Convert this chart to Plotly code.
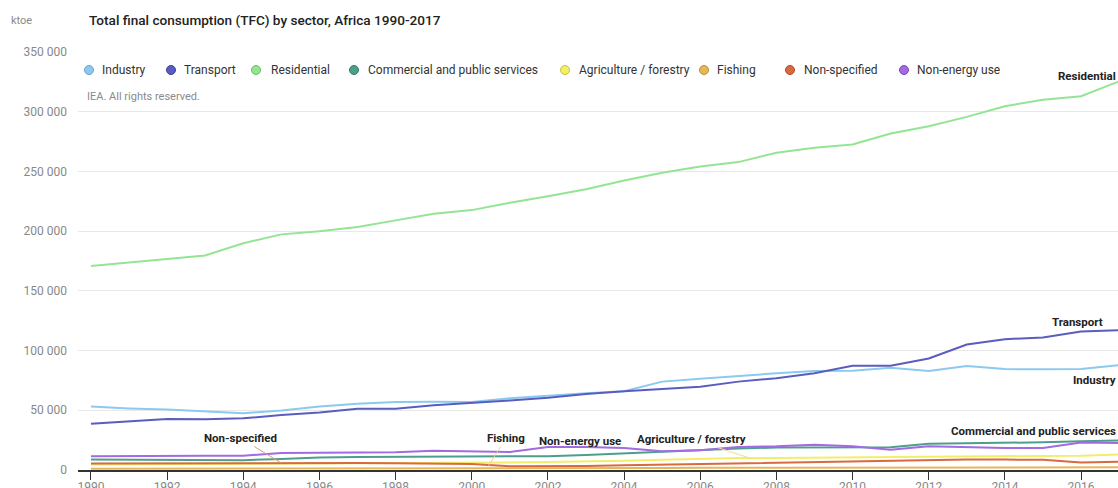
import plotly.graph_objects as go

years = list(range(1990, 2018))

# ktoe
industry = [53100, 51500, 50600, 49300, 47600, 49800, 53100, 55400, 57000, 57200,
            57000, 60000, 62300, 64300, 66000, 74000, 76500, 79000, 81000, 82900,
            83200, 85700, 82900, 87000, 84500, 84300, 84500, 87900]
transport = [38700, 40600, 42600, 42500, 43300, 46000, 48200, 51200, 51200, 54200,
             56000, 58200, 60600, 63700, 66000, 67600, 69800, 74000, 76800, 81000,
             87300, 87300, 93400, 105000, 109500, 111000, 116000, 117000]
residential = [170800, 173600, 176400, 179700, 189800, 197300, 200000, 203400, 209000, 214600,
               217600, 223800, 229300, 235000, 242400, 248900, 254200, 257800, 265600, 269800,
               272500, 281700, 287900, 295700, 304600, 310000, 313000, 325500]
commercial = [8700, 8500, 8300, 8300, 8200, 9300, 10400, 10800, 11000, 11200,
              11500, 11500, 11600, 12500, 13900, 15000, 16200, 18000, 18800, 19000,
              19300, 19000, 22000, 22300, 22600, 23200, 24000, 24800]
agriculture = [4600, 4700, 4800, 4900, 5000, 5100, 5200, 5300, 5400, 5600,
               6000, 6300, 6600, 7000, 7800, 8500, 9200, 10000, 10000, 10300,
               10700, 11000, 11500, 11500, 11800, 11800, 12000, 13000]
fishing = [1100, 1100, 1200, 1200, 1200, 1300, 1300, 1300, 1400, 1400,
           1500, 1500, 1600, 1600, 1700, 1700, 1800, 1800, 1900, 1900,
           2000, 2000, 2000, 2100, 2100, 2100, 2200, 2200]
non_specified = [5500, 5600, 5600, 5700, 5700, 5800, 5800, 5800, 5600, 5400,
                 5000, 3200, 3000, 3400, 4000, 4500, 5000, 5500, 6000, 6500,
                 7200, 7800, 8500, 8700, 8700, 8500, 6200, 7000]
non_energy = [11500, 11800, 11800, 12000, 12000, 14300, 14500, 14800, 14800, 16200,
              15700, 15000, 19300, 19300, 18400, 15700, 16500, 19300, 19800, 21200,
              19800, 17000, 19800, 19000, 18400, 18400, 23000, 22500]

sectors = ["Industry", "Transport", "Residential", "Commercial and public services",
           "Agriculture / forestry", "Fishing", "Non-specified", "Non-energy use"]
series = [industry, transport, residential, commercial, agriculture, fishing, non_specified, non_energy]
colors = ["#8cc9ef", "#5a5dc0", "#93e593", "#4c9f8b", "#f3ee6a", "#e6b65a", "#d9693f", "#a26be2"]
edges = ["#5fa6d3", "#3d3f9c", "#62c062", "#2f7a68", "#c9c236", "#bf8d2e", "#b04a25", "#7c46c0"]

W, H = 1118, 488
# plot area in pixels: left 78, right 1118, top 52, bottom 470
L, R, T, B = 78, 1118, 52, 470


def px(x):
    return (x - L) / (R - L)


def py(y):
    return (B - y) / (B - T)


font = "Roboto, Inter, sans-serif"

fig = go.Figure()
for name, vals, col in zip(sectors, series, colors):
    fig.add_trace(go.Scatter(x=years, y=vals, name=name, mode="lines",
                             line=dict(color=col, width=2), showlegend=False))

annotations = []
shapes = []

# hand-made legend: circles + text
legend_circle_x = [89, 171, 256, 354, 565, 704, 790, 904]
legend_text_x = [100, 182, 269, 366, 577, 715, 802, 915]
for name, col, edge, cx, tx in zip(sectors, colors, edges, legend_circle_x, legend_text_x):
    shapes.append(dict(type="circle", xref="paper", yref="paper",
                       xsizemode="pixel", ysizemode="pixel",
                       xanchor=px(cx), yanchor=py(70),
                       x0=-4.5, x1=4.5, y0=-4.5, y1=4.5,
                       fillcolor=col, line=dict(color=edge, width=1)))
    annotations.append(dict(text=name, xref="paper", yref="paper", x=px(tx), y=py(70),
                            xanchor="left", yanchor="middle", showarrow=False,
                            font=dict(size=12, color="#333333", family=font)))

annotations.append(dict(text="IEA. All rights reserved.", xref="paper", yref="paper",
                        x=px(85), y=py(97), xanchor="left", yanchor="middle", showarrow=False,
                        font=dict(size=11, color="#8a8a8a", family=font)))
annotations.append(dict(text="ktoe", xref="paper", yref="paper",
                        x=px(9), y=py(20), xanchor="left", yanchor="middle", showarrow=False,
                        font=dict(size=11, color="#8a8a8a", family=font)))

label_font = dict(size=11.5, color="#222222", family=font)

# labels at the right end of the big series
annotations.append(dict(text="<b>Residential</b>", xref="paper", yref="y", x=1, y=residential[-1],
                        xanchor="right", yanchor="middle", yshift=5, showarrow=False, font=label_font))
annotations.append(dict(text="<b>Transport</b>", xref="paper", yref="y", x=1, y=transport[-1],
                        xanchor="right", yanchor="middle", yshift=8, xshift=-13, showarrow=False,
                        font=label_font))
annotations.append(dict(text="<b>Industry</b>", xref="paper", yref="y", x=1, y=industry[-1],
                        xanchor="right", yanchor="middle", yshift=-15, showarrow=False, font=label_font))
annotations.append(dict(text="<b>Commercial and public services</b>", xref="paper", yref="y", x=1,
                        y=commercial[-1], xanchor="right", yanchor="middle", yshift=9,
                        showarrow=False, font=label_font))

# callouts for the small series
annotations.append(dict(text="<b>Non-specified</b>", x=1995, y=non_specified[5], ax=-41, ay=-25,
                        showarrow=True, arrowhead=0, arrowwidth=1, arrowcolor="#e39a80",
                        font=label_font))
annotations.append(dict(text="<b>Fishing</b>", x=2000.4, y=fishing[10], ax=19, ay=-30,
                        showarrow=True, arrowhead=0, arrowwidth=1, arrowcolor="#efcf92",
                        font=label_font))
annotations.append(dict(text="<b>Non-energy use</b>", x=2001.8, y=18800, ax=40, ay=-7,
                        showarrow=True, arrowhead=0, arrowwidth=1, arrowcolor="#c3a0ee",
                        font=label_font))
annotations.append(dict(text="<b>Agriculture / forestry</b>", x=2007.3, y=agriculture[17], ax=-58, ay=-19,
                        showarrow=True, arrowhead=0, arrowwidth=1, arrowcolor="#e8e28a",
                        font=label_font))

fig.update_layout(
    width=W, height=H,
    margin=dict(l=L, r=W - R, t=T, b=H - B),
    paper_bgcolor="white", plot_bgcolor="white",
    separators=". ",
    title=dict(text="Total final consumption (TFC) by sector, Africa 1990-2017",
               x=89 / W, xanchor="left", y=1 - 20 / H, yanchor="middle",
               font=dict(size=13.6, color="#222222", family=font, weight=500)),
    xaxis=dict(range=[1989.66, 2016.97], tick0=1990, dtick=2, showgrid=False, zeroline=False,
               showline=True, linecolor="#333333", linewidth=1.5, automargin=False,
               ticks="outside", ticklen=8, tickcolor="#333333", tickwidth=1,
               ticklabelstandoff=-3,
               tickfont=dict(size=12, color="#888888", family=font)),
    yaxis=dict(range=[0, 350000], dtick=50000, tickformat=",d", showgrid=True,
               gridcolor="#e8e8e8", gridwidth=1, zeroline=False, showline=False,
               ticklabelstandoff=10, automargin=False,
               tickfont=dict(size=12, color="#888888", family=font)),
    shapes=shapes,
    annotations=annotations,
    showlegend=False,
)

# drop the default body margin so the figure fills the window exactly
fig.write_html("out.html", config={"displayModeBar": False},
               post_script="document.body.style.margin = '0';")
